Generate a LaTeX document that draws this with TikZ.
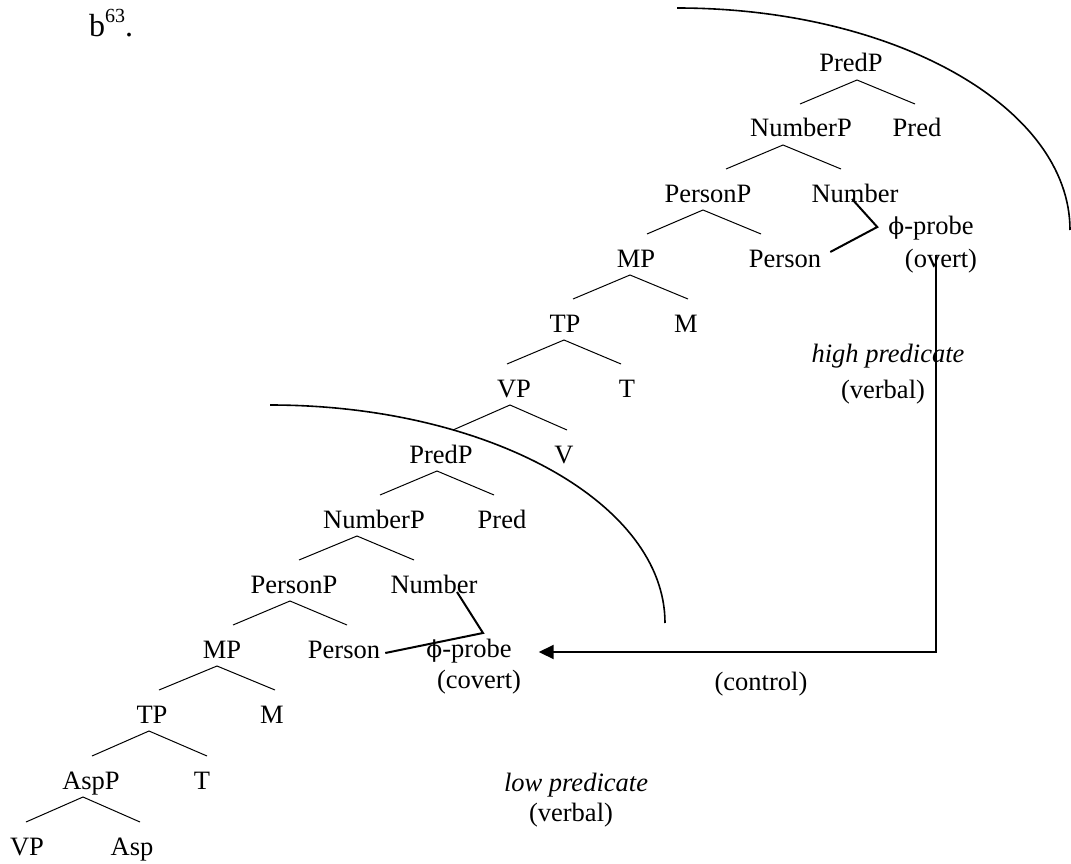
\documentclass[tikz,border=0pt]{standalone}
\usepackage{fontspec}
\setmainfont{Liberation Serif}
\newfontfamily\phifont[Scale=0.88]{DejaVu Serif}
\usetikzlibrary{arrows.meta}
\newcommand\treefont{\fontsize{26.5}{32}\selectfont}
\newcommand\phisym{{\phifont ϕ}}
\newcommand\brpair[6]{\draw[branchline] ([xshift=#5pt,yshift=33pt]#2.base) -- ([xshift=#4pt,yshift=-8pt]#1.base) -- ([xshift=#6pt,yshift=33pt]#3.base);}
\begin{document}
\begin{tikzpicture}[x=1pt,y=-1pt,
  tn/.style={anchor=base,inner sep=0pt,font=\treefont},
  branchline/.style={line width=1pt},
  arcline/.style={line width=1.6pt},
  probeline/.style={line width=2pt},
  ctrlline/.style={line width=2pt,-{Triangle[length=15pt,width=14pt]}}]
\useasboundingbox (0,0) rectangle (1071,864);

% label
\node[anchor=base west,inner sep=0pt,font=\fontsize{32}{38}\selectfont] (label) at (89,37) {b\raisebox{14pt}{\fontsize{20}{20}\selectfont 63}.};

% upper tree
\node[tn] (PredPa) at (851,72) {PredP};
\node[tn] (NumberPa) at (801,137) {NumberP};
\node[tn] (Preda) at (917,137) {Pred};
\node[tn] (PersonPa) at (708,202) {PersonP};
\node[tn] (Numbera) at (855,202) {Number};
\node[tn] (MPa) at (636,267) {MP};
\node[tn] (Persona) at (785,267) {Person};
\node[tn] (TPa) at (565,332) {TP};
\node[tn] (Ma) at (686,332) {M};
\node[tn] (VPa) at (514,397) {VP};
\node[tn] (Ta) at (627,397) {T};
% lower tree
\node[tn] (PredPb) at (441,463) {PredP};
\node[tn] (Va) at (564,463) {V};
\node[tn] (NumberPb) at (374,528) {NumberP};
\node[tn] (Predb) at (502,528) {Pred};
\node[tn] (PersonPb) at (294,593) {PersonP};
\node[tn] (Numberb) at (434,593) {Number};
\node[tn] (MPb) at (222,658) {MP};
\node[tn] (Personb) at (344,658) {Person};
\node[tn] (TPb) at (152,723) {TP};
\node[tn] (Mb) at (272,723) {M};
\node[tn] (AspP) at (91,789) {AspP};
\node[tn] (Tb) at (202,789) {T};
\node[tn] (VPb) at (27,855) {VP};
\node[tn] (Asp) at (132,855) {Asp};

\brpair{PredPa}{NumberPa}{Preda}{6}{-1}{-2}
\brpair{NumberPa}{PersonPa}{Numbera}{-18}{18}{-14}
\brpair{PersonPa}{MPa}{Persona}{-5}{11}{-24}
\brpair{MPa}{TPa}{Ma}{-6}{8}{2}
\brpair{TPa}{VPa}{Ta}{-1}{-7}{-6}
\brpair{VPa}{PredPb}{Va}{-4}{12}{3}
\brpair{PredPb}{NumberPb}{Predb}{-4}{6}{-8}
\brpair{NumberPb}{PersonPb}{Numberb}{-17}{5}{-20}
\brpair{PersonPb}{MPb}{Personb}{-4}{11}{3}
\brpair{MPb}{TPb}{Mb}{-5}{7}{3}
\brpair{TPb}{AspP}{Tb}{-3}{1}{5}
\brpair{AspP}{VPb}{Asp}{-8}{-1}{8}

% probes and labels
\node[tn] (phia) at (931,234) {\phisym-probe};
\node[tn] (overt) at (941,267) {(overt)};
\node[tn] (phib) at (469,657) {\phisym-probe};
\node[tn] (covert) at (479,688) {(covert)};
\node[tn] (control) at (761,690) {(control)};
\node[tn,font=\treefont\itshape] (highpred) at (888,362) {high predicate};
\node[tn] (verbala) at (883,398) {(verbal)};
\node[tn,font=\treefont\itshape] (lowpred) at (576,791) {low predicate};
\node[tn] (verbalb) at (571,821) {(verbal)};

\draw[probeline] ([xshift=-3pt,yshift=3pt]Numbera.base) -- ([xshift=-11pt,yshift=7pt]phia.base west) -- ([xshift=9pt,yshift=15pt]Persona.base east);
\draw[probeline] ([xshift=23pt,yshift=1pt]Numberb.base) -- ([xshift=14pt,yshift=24pt]phib.base) -- ([xshift=5pt,yshift=5pt]Personb.base east);
\draw[ctrlline] ([xshift=-5pt,yshift=12pt]overt.base) |- ([xshift=27pt,yshift=5pt]phib.base east);

% arcs
\draw[arcline] (677,8) .. controls (894,8) and (1070,107) .. (1070,230);
\draw[arcline] (270,405) .. controls (488,405) and (665,503) .. (665,623);
\end{tikzpicture}
\end{document}
